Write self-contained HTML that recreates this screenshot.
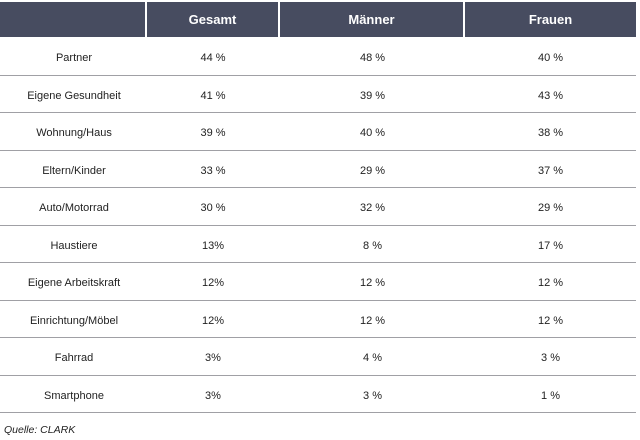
<!DOCTYPE html>
<html><head><style>
body{margin:0;width:640px;height:440px;background:#fff;font-family:"Liberation Sans",sans-serif;position:relative;overflow:hidden}
.h{position:absolute;top:2px;height:35px;background:#474c60;color:#fff;font-weight:bold;font-size:13px;line-height:35px;text-align:center}
.r{position:absolute;left:0;width:636px;height:37.5px;border-bottom:1.5px solid #a0a0a5;box-sizing:border-box;font-size:11px;color:#222}
.r span{position:absolute;top:0;line-height:40px;text-align:center}
.a{left:2px;width:144px}.b{left:147px;width:132px}.c{left:281px;width:183px}.d{left:465px;width:171px}
.q{position:absolute;left:4px;top:424px;font-size:10.5px;font-style:italic;color:#222}
</style></head><body>
<div class="h" style="left:0;width:145px"></div>
<div class="h" style="left:147px;width:131px">Gesamt</div>
<div class="h" style="left:280px;width:183px">Männer</div>
<div class="h" style="left:465px;width:171px">Frauen</div>
<div class="r" style="top:38px"><span class="a">Partner</span><span class="b">44 %</span><span class="c">48 %</span><span class="d">40 %</span></div>
<div class="r" style="top:75.5px"><span class="a">Eigene Gesundheit</span><span class="b">41 %</span><span class="c">39 %</span><span class="d">43 %</span></div>
<div class="r" style="top:113px"><span class="a">Wohnung/Haus</span><span class="b">39 %</span><span class="c">40 %</span><span class="d">38 %</span></div>
<div class="r" style="top:150.5px"><span class="a">Eltern/Kinder</span><span class="b">33 %</span><span class="c">29 %</span><span class="d">37 %</span></div>
<div class="r" style="top:188px"><span class="a">Auto/Motorrad</span><span class="b">30 %</span><span class="c">32 %</span><span class="d">29 %</span></div>
<div class="r" style="top:225.5px"><span class="a">Haustiere</span><span class="b">13%</span><span class="c">8 %</span><span class="d">17 %</span></div>
<div class="r" style="top:263px"><span class="a">Eigene Arbeitskraft</span><span class="b">12%</span><span class="c">12 %</span><span class="d">12 %</span></div>
<div class="r" style="top:300.5px"><span class="a">Einrichtung/Möbel</span><span class="b">12%</span><span class="c">12 %</span><span class="d">12 %</span></div>
<div class="r" style="top:338px"><span class="a">Fahrrad</span><span class="b">3%</span><span class="c">4 %</span><span class="d">3 %</span></div>
<div class="r" style="top:375.5px"><span class="a">Smartphone</span><span class="b">3%</span><span class="c">3 %</span><span class="d">1 %</span></div>
<div class="q">Quelle: CLARK</div>
</body></html>
